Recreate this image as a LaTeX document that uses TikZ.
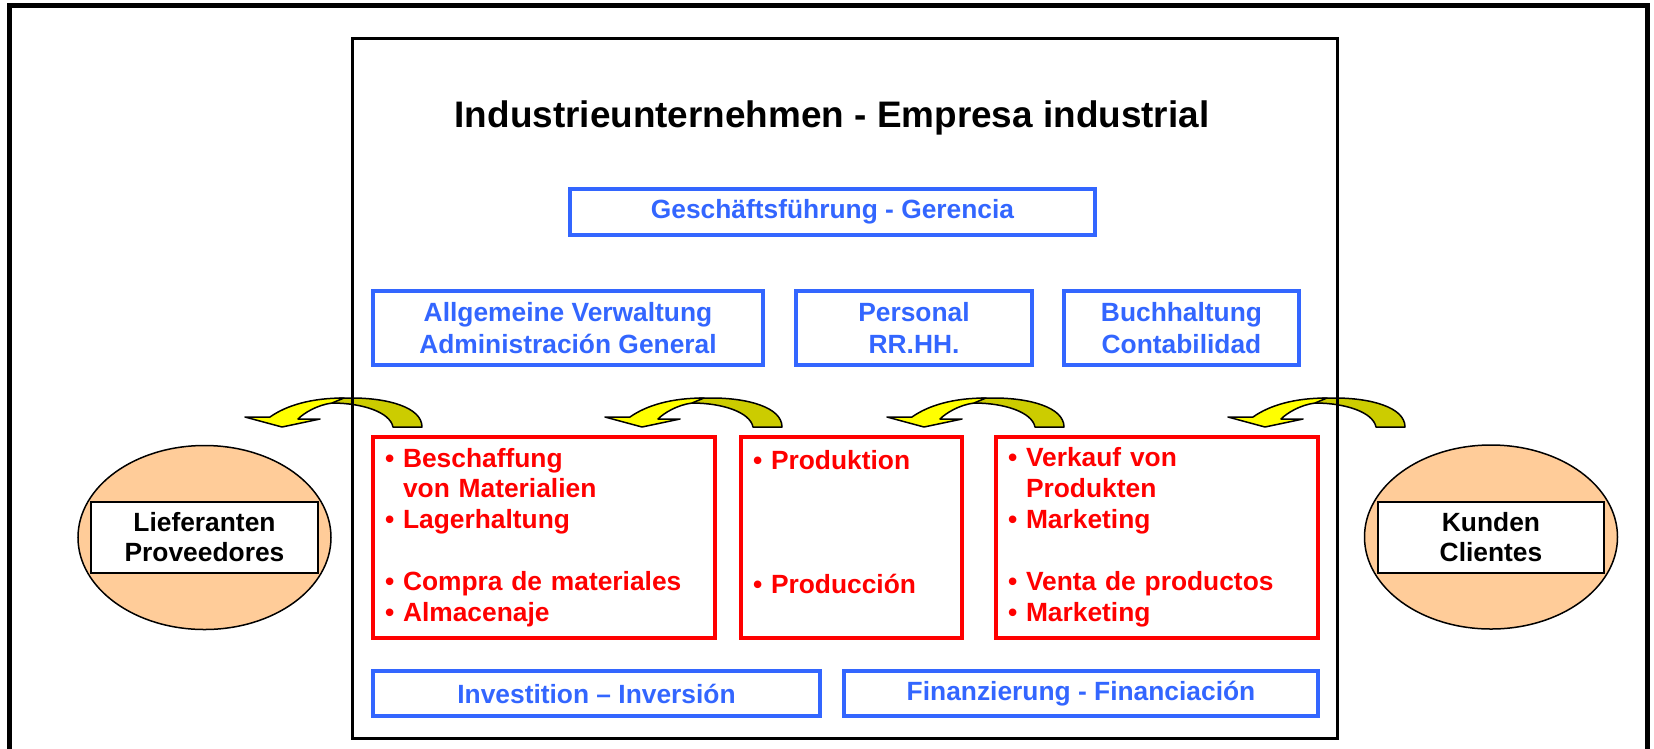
\documentclass[tikz,border=0pt]{standalone}
\usepackage{fontspec}
\setmainfont{Liberation Sans}
\usetikzlibrary{shapes.geometric}
\definecolor{myblue}{RGB}{51,102,255}
\definecolor{myred}{RGB}{255,0,0}
\definecolor{mypeach}{RGB}{255,204,153}
\definecolor{myyellow}{RGB}{255,255,0}
\definecolor{myolive}{RGB}{204,204,0}

\begin{document}
\begin{tikzpicture}[x=0.2mm, y=-0.2mm,
    bluebox/.style={draw=myblue, line width=0.85mm, text=myblue, font=\fontsize{15}{18}\selectfont\bfseries, align=center, minimum height=14.8mm},
    redbox/.style={draw=myred, line width=0.85mm, text=myred, font=\fontsize{15}{17.6}\selectfont\bfseries, align=left, minimum height=40.2mm, inner xsep=2.4mm},
    partner/.style={ellipse, draw, fill=mypeach, line width=0.3mm, minimum width=50.6mm, minimum height=36.8mm},
    namebox/.style={draw, fill=white, line width=0.4mm, minimum width=45.2mm, minimum height=14.2mm, align=center, font=\fontsize{15}{17}\selectfont\bfseries}]

    \useasboundingbox (0,0) rectangle (1654,748);
    \draw[line width=1mm] (9,760) -- (9,5) -- (1647,5) -- (1647,760);

    % curved arrows
    \foreach \x in {282,642,924,1265}{
        \begin{scope}[shift={(\x,427)}, line width=0.3mm, line join=round]
            \filldraw[fill=myolive] (140,0) .. controls (140,-20) and (105,-29) .. (70,-29) -- (58,-29) -- (50,-24) .. controls (80,-24) and (108,-15) .. (111,0) -- cycle;
            \filldraw[fill=myyellow] (-12,-10) .. controls (5,-22) and (30,-29) .. (62,-29) -- (50,-24) .. controls (35,-22) and (22,-14) .. (16,-8) -- (38,-8) -- (0,0) -- (-37,-10) -- cycle;
        \end{scope}
    }

    \draw[line width=0.6mm] (352,38) rectangle (1337,738);

    \node[font=\fontsize{21}{25}\selectfont\bfseries, anchor=base] (title) at (832,127) {Industrieunternehmen - Empresa industrial};
    \node[bluebox, minimum width=105mm, minimum height=9.2mm] (gf) at (832.5,212) {Geschäftsführung - Gerencia};
    \node[bluebox, minimum width=78mm] (verw) at (568,328) {Allgemeine Verwaltung\\Administración General};
    \node[bluebox, minimum width=47.2mm] (pers) at (914,328) {Personal\\RR.HH.};
    \node[bluebox, minimum width=47mm] (buch) at (1181.5,328) {Buchhaltung\\Contabilidad};

    \node[redbox, text width=63.6mm] (beschaff) at (544,537.5) {• Beschaffung\\\phantom{•} von Materialien\\• Lagerhaltung\\\mbox{}\\• Compra de materiales\\• Almacenaje};
    \node[redbox, text width=39.4mm] (prod) at (851.5,537.5) {• Produktion\\\mbox{}\\\mbox{}\\\mbox{}\\• Producción\\\mbox{}};
    \node[redbox, text width=59.6mm] (verkauf) at (1157,537.5) {• Verkauf von\\\phantom{•} Produkten\\• Marketing\\\mbox{}\\• Venta de productos\\• Marketing};

    \node[bluebox, minimum width=89.4mm, minimum height=9mm] (invest) at (596.5,693.5) {Investition – Inversión};
    \node[bluebox, minimum width=94.8mm, minimum height=9mm] (finanz) at (1081,693.5) {Finanzierung - Financiación};

    \node[partner] (lief) at (204.5,537.5) {};
    \node[namebox] (liefname) at (lief) {Lieferanten\\Proveedores};
    \node[partner] (kund) at (1491,537) {};
    \node[namebox] (kundname) at (kund) {Kunden\\Clientes};
\end{tikzpicture}
\end{document}
